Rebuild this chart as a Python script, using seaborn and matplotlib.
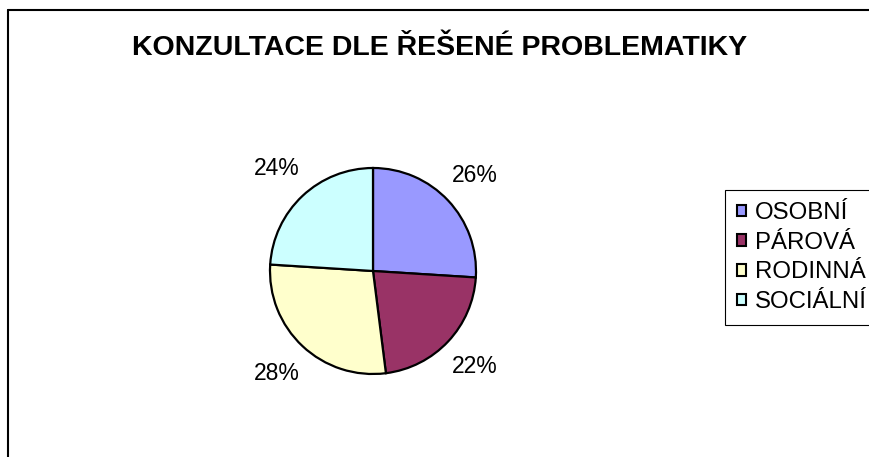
import matplotlib.pyplot as plt
import matplotlib.patches as mpatches
from matplotlib.lines import Line2D
import seaborn as sns

# -------------------- DATA --------------------
categories = ["OSOBNÍ", "PÁROVÁ", "RODINNÁ", "SOCIÁLNÍ"]
shares = [26, 22, 28, 24]
colors = ["#9999FF", "#993366", "#FFFFCC", "#CCFFFF"]
title = "KONZULTACE DLE ŘEŠENÉ PROBLEMATIKY"

# -------------------- PLOT --------------------
sns.set_theme(style="white")
plt.rcParams['font.family'] = ['Liberation Sans', 'DejaVu Sans']
plt.rcParams['text.color'] = 'black'

fig = plt.figure(figsize=(8.7, 4.57), dpi=100)

# pie axes: center (373, 271) px, radius ~103 px
W, H = 870, 457
r = 103
half = 1.25 * r
cx, cy = 373, H - 271
ax = fig.add_axes([(cx - half) / W, (cy - half) / H, 2 * half / W, 2 * half / H])
ax.pie(shares, colors=colors, startangle=90, counterclock=False,
       autopct='%1.0f%%', pctdistance=1.36,
       wedgeprops=dict(edgecolor="black", linewidth=1.6),
       textprops=dict(fontsize=16.5, color="black"))
ax.set_xlim(-1.25, 1.25)
ax.set_ylim(-1.25, 1.25)
ax.set_aspect('equal')
ax.axis('off')

fig.text(440 / W, 1 - 48 / H, title, ha='center', va='center',
         fontsize=20.5, fontweight='bold', color='black')

handles = [mpatches.Patch(facecolor=c, edgecolor="black", linewidth=1.5) for c in colors]
fig.legend(handles, categories, loc='upper left',
           bbox_to_anchor=(725 / W, 1 - 190 / H), borderaxespad=0,
           fontsize=17.3, frameon=True, fancybox=False, edgecolor="black",
           handlelength=0.38, handleheight=0.38, handletextpad=0.35,
           labelspacing=0.32, borderpad=0.5, framealpha=1, labelcolor='black')
leg = fig.legends[0]
leg.get_frame().set_linewidth(0.8)

# outer chart border (left and top edges visible)
fig.add_artist(Line2D([8 / W, 8 / W], [0, 1 - 10 / H], color="black", lw=1.5))
fig.add_artist(Line2D([8 / W, 1], [1 - 10 / H, 1 - 10 / H], color="black", lw=1.5))

fig.savefig("out.png", dpi=100)
